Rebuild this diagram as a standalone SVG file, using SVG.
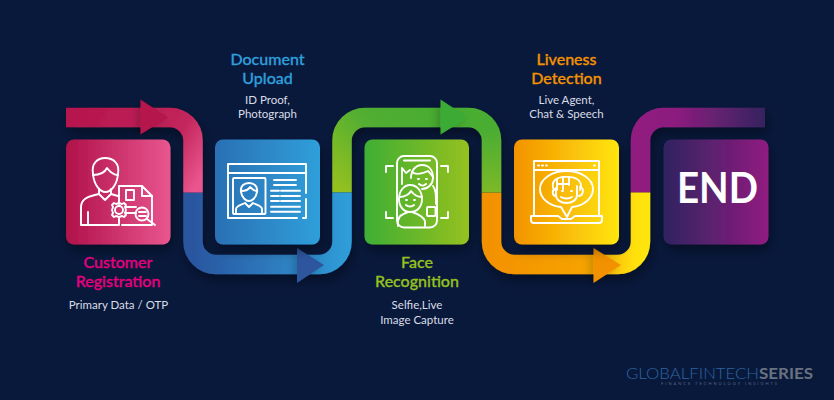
<svg xmlns="http://www.w3.org/2000/svg" width="834" height="400" viewBox="0 0 834 400">
<style>
.b{fill:none;stroke-width:19.5;stroke-linecap:butt}
.ic{fill:none;stroke:#fff;stroke-width:1.9;stroke-linejoin:round;stroke-linecap:round}
.h{font-family:"Lato","Liberation Sans",sans-serif;font-size:16px;font-weight:500;text-anchor:middle;stroke-width:.3px}
.s{font-family:"Lato","Liberation Sans",sans-serif;font-size:11.5px;fill:#d9dde6;text-anchor:middle}
</style>
<defs>
<filter id="sh" x="-20%" y="-20%" width="140%" height="150%"><feDropShadow dx="2" dy="6" stdDeviation="6" flood-color="#000" flood-opacity=".38"/></filter>
<filter id="sa" x="-40%" y="-30%" width="180%" height="170%"><feDropShadow dx="-3" dy="2" stdDeviation="4" flood-color="#000" flood-opacity=".22"/></filter>
<linearGradient id="gRed" gradientUnits="userSpaceOnUse" x1="66" y1="117" x2="193" y2="192"><stop offset="0" stop-color="#b5144c"/><stop offset=".72" stop-color="#c2265b"/><stop offset="1" stop-color="#e9568f"/></linearGradient>
<linearGradient id="gBlue" gradientUnits="userSpaceOnUse" x1="193" y1="0" x2="352" y2="0"><stop offset="0" stop-color="#2b569f"/><stop offset="1" stop-color="#2f9fda"/></linearGradient>
<linearGradient id="gGrn" gradientUnits="userSpaceOnUse" x1="342" y1="192" x2="420" y2="112"><stop offset="0" stop-color="#95c11f"/><stop offset=".6" stop-color="#52ae32"/><stop offset="1" stop-color="#4aad33"/></linearGradient>
<linearGradient id="gGrn2" gradientUnits="userSpaceOnUse" x1="0" y1="130" x2="0" y2="192"><stop offset="0" stop-color="#4aad33"/><stop offset="1" stop-color="#7cb927"/></linearGradient>
<linearGradient id="gOrg" gradientUnits="userSpaceOnUse" x1="491" y1="0" x2="650" y2="0"><stop offset="0" stop-color="#f39200"/><stop offset=".6" stop-color="#f6a300"/><stop offset=".9" stop-color="#ffe00f"/><stop offset="1" stop-color="#ffe60f"/></linearGradient>
<linearGradient id="gPur" gradientUnits="userSpaceOnUse" x1="640" y1="0" x2="765" y2="0"><stop offset="0" stop-color="#911c80"/><stop offset=".3" stop-color="#8b1e7e"/><stop offset="1" stop-color="#35235f"/></linearGradient>
<linearGradient id="c1"><stop offset="0" stop-color="#b01149"/><stop offset="1" stop-color="#e9568f"/></linearGradient>
<linearGradient id="c2"><stop offset="0" stop-color="#2b70b4"/><stop offset="1" stop-color="#2f9fda"/></linearGradient>
<linearGradient id="c3"><stop offset="0" stop-color="#3fae34"/><stop offset="1" stop-color="#95c11f"/></linearGradient>
<linearGradient id="c4"><stop offset="0" stop-color="#f39200"/><stop offset="1" stop-color="#ffe60f"/></linearGradient>
<linearGradient id="c5"><stop offset="0" stop-color="#2f2460"/><stop offset="1" stop-color="#911c80"/></linearGradient>
</defs>
<rect width="834" height="400" fill="#09193c"/>

<g id="connectors">
<g filter="url(#sh)">
<path class="b" stroke="url(#gPur)" d="M640.5 192.500V140.500A23 23 0 0 1 663.500 117.500H765"/>
<path class="b" stroke="url(#gOrg)" d="M491.500 192.500V241.500A23 23 0 0 0 514.500 264.500H617.500A23 23 0 0 0 640.500 241.500V192.500"/>
<path class="b" stroke="url(#gGrn2)" d="M491.500 192.500V140.500A23 23 0 0 0 468.500 117.500H440"/>
<path class="b" stroke="url(#gGrn)" d="M342 192.500V140.500A23 23 0 0 1 365 117.500H441"/>
<path class="b" stroke="url(#gBlue)" d="M193 192.500V241.500A23 23 0 0 0 216 264.500H319A23 23 0 0 0 342 241.500V192.500"/>
<path class="b" stroke="url(#gRed)" d="M66 117.500H170A23 23 0 0 1 193 140.500V192.500"/>
</g>
<path filter="url(#sa)" fill="#b5124b" d="M140.500 99.500L168 117.500L140.500 134.500Z"/>
<path filter="url(#sa)" fill="#2d569f" d="M297 248L324 265L297 283Z"/>
<path filter="url(#sa)" fill="#3aab35" d="M440.500 99.500L468 117.500L440.500 134.500Z"/>
<path filter="url(#sa)" fill="#f39200" d="M593.500 248L621 265L593.500 283Z"/>
</g>

<g id="node-customer-registration">
<rect x="66" y="139.500" width="104.500" height="105" rx="8" fill="url(#c1)" filter="url(#sh)"/>
<g class="ic">
<path d="M93 174C91 163 98 158 105 158C113 158 120 163 118 174"/>
<path d="M93 174C94 185 100 192 105.500 192C111 192 117 185 118 174"/>
<path d="M93 175C100 175 105 172 107 168C110 172 114 175 118 175"/>
<path d="M99 189V194L105 200L111 194V189"/>
<path d="M99 194C90 196 81 198 81 207V225H118"/>
<path d="M88 212V225M111 194L118 196"/>
<path d="M119 204V186H142L152 196V225H122"/>
<path d="M142 186V196H152"/>
<rect x="126" y="190" width="8" height="10"/>
<circle cx="119" cy="210" r="4"/>
<path d="M119 203L122 204L124 203L126 205L125 207L126 210L125 213L126 215L124 217L122 216L119 217L116 216L114 217L112 215L113 213L112 210L113 207L112 205L114 203L116 204Z"/>
<path d="M119 217V225M126 207H136M126 213H136"/>
<circle cx="142" cy="214" r="6.500"/>
<path d="M139 212H146M139 216H146M147 219L155 225"/>
</g>
<text class="h" x="118" y="268" fill="#e6007e" stroke="#e6007e">Customer</text>
<text class="h" x="118" y="287" fill="#e6007e" stroke="#e6007e">Registration</text>
<text class="s" x="118.500" y="309">Primary Data / OTP</text>
</g>

<g id="node-document-upload">
<rect x="215" y="139.500" width="105" height="105" rx="8" fill="url(#c2)" filter="url(#sh)"/>
<g class="ic">
<path d="M303 218H306V199M306 193V164H228V218H297"/>
<path d="M228 173H306"/>
<rect x="233" y="178" width="32.500" height="36" rx="1"/>
<path d="M241 192C240 186 244 183 249 183C254 183 258 186 257 192C256 198 252 201 249 201C246 201 242 198 241 192Z"/>
<path d="M241 191C246 191 249 189 250 187C252 189 254 191 257 191"/>
<path d="M236 214V209C236 206 241 205 245 203L249 207L253 203C257 205 262 206 262 209V214"/>
<path d="M274 180H296M274 185H296M271 190.700H279M281 190.700H300M271 196H279M281 196H300M271 201H279M281 201H300M271 206.700H300M271 211.700H300"/>
</g>
<text class="h" x="267.500" y="65" fill="#2f9fda" stroke="#2f9fda">Document</text>
<text class="h" x="267.500" y="84" fill="#2f9fda" stroke="#2f9fda">Upload</text>
<text class="s" x="267.500" y="104">ID Proof,</text>
<text class="s" x="267.500" y="118">Photograph</text>
</g>

<g id="node-face-recognition">
<rect x="364.500" y="139.500" width="104.500" height="105" rx="8" fill="url(#c3)" filter="url(#sh)"/>
<g class="ic">
<rect x="397" y="156" width="40" height="71.500" rx="7"/>
<path d="M404 160.500H430"/>
<path d="M386 172V166H393M441 166H448V172M386 212V218H393M441 218H448V212"/>
<path d="M411 178C411 170 416 165 422 165C429 165 433 170 433 178C433 184 428 189 422 189"/>
<path d="M412 172C417 176 426 172 428 171C430 173 432 175 433 177"/>
<path d="M433 186C436 190 436 194 436 204M402 184V168L406 173L410 170"/>
<path d="M418 179H419M426 179H427M419 184C421 186 424 186 426 184"/>
<path d="M399 199C399 191 404 185 410 185C417 185 422 191 422 199C422 207 417 212 410 212C404 212 399 207 399 199Z"/>
<path d="M400 197C406 197 410 193 411 191C414 195 418 197 422 197"/>
<path d="M406 200H407M414 200H415M406 205C408 207 412 207 414 205"/>
<path d="M398 226V221C398 216 403 214 408 212M412 212C418 214 423 216 425 221V226"/>
<rect x="427" y="207" width="8.500" height="9" rx="1"/>
</g>
<text class="h" x="417" y="268" fill="#95c11f" stroke="#95c11f">Face</text>
<text class="h" x="417" y="287" fill="#95c11f" stroke="#95c11f">Recognition</text>
<text class="s" x="417" y="309">Selfie,Live</text>
<text class="s" x="417" y="324">Image Capture</text>
</g>

<g id="node-liveness-detection">
<rect x="514" y="139.500" width="105" height="105" rx="8" fill="url(#c4)" filter="url(#sh)"/>
<g class="ic">
<path d="M534 216V161H599V216"/>
<path d="M534 170H599M538 165.500H539M542 165.500H543M546 165.500H547M594 165.500H595"/>
<path d="M561 207C549 206 540 198 540 189C540 179 552 171 566.500 171C581 171 593 179 593 189C593 198 584 206 572 207L567 217Z"/>
<path d="M554 190C552 186 553 182 555 180C559 176 572 176 577 179C581 181 582 186 580 190"/>
<path d="M557 190V179M563 189V177M569 185V177M557 184H569"/>
<path d="M556 188V195C556 200 561 203 566.500 203C572 203 577 200 577 195V186"/>
<path d="M580 187C584 187 584 195 579 196M555 189C552 190 552 195 555 196"/>
<path d="M562 191H563M571 191H572M561 197C564 199 569 199 572 197"/>
<path d="M531 216H558L562 219H571L575 216H602V220C602 222 601 223 599 223H534C532 223 531 222 531 220Z"/>
</g>
<text class="h" x="566.500" y="65" fill="#f39200" stroke="#f39200">Liveness</text>
<text class="h" x="566.500" y="84" fill="#f39200" stroke="#f39200">Detection</text>
<text class="s" x="566.500" y="104">Live Agent,</text>
<text class="s" x="566.500" y="118">Chat &amp; Speech</text>
</g>

<g id="node-end">
<rect x="663.500" y="139.500" width="105" height="105" rx="8" fill="url(#c5)" filter="url(#sh)"/>
<text x="717.500" y="203" font-family="Lato,'Liberation Sans',sans-serif" font-size="41.500" font-weight="700" fill="#fff" text-anchor="middle" textLength="81" lengthAdjust="spacingAndGlyphs">END</text>
</g>

<g id="logo">
<text x="626" y="379" font-family="Lato,'Liberation Sans',sans-serif" font-size="15.500" font-weight="300" fill="#2c639f" textLength="133" lengthAdjust="spacingAndGlyphs">GLOBALFINTECH</text>
<text x="759" y="379" font-family="Lato,'Liberation Sans',sans-serif" font-size="15.500" font-weight="700" fill="#6a7280" textLength="54" lengthAdjust="spacingAndGlyphs">SERIES</text>
<text x="661" y="385" font-family="Lato,'Liberation Sans',sans-serif" font-size="4" fill="#566684" textLength="116">FINANCE TECHNOLOGY INSIGHTS</text>
</g>
</svg>
